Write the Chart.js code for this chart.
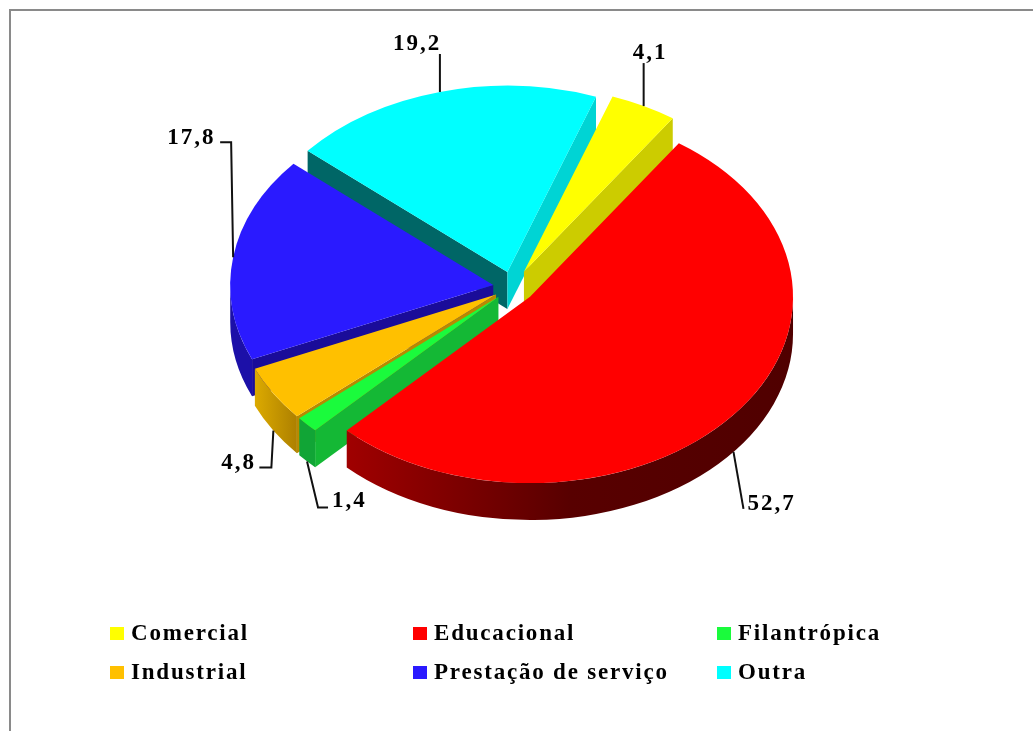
<!DOCTYPE html>
<html lang="pt">
<head>
<meta charset="utf-8">
<title>Pizza 3D</title>
<script src="https://cdn.jsdelivr.net/npm/chart.js@4"></script>
<style>
  html, body { margin: 0; padding: 0; background: #fff; overflow: hidden; }
  #wrap { position: relative; width: 1033px; height: 731px; }
  #pieCanvas { position: absolute; left: 0; top: 0; }
  #frame { position: absolute; left: 9px; top: 9px; right: -5px; bottom: -5px;
           border-left: 2px solid #8a8a8a; border-top: 2px solid #8a8a8a; }
  .item { position: absolute; height: 26px; line-height: 26px; white-space: nowrap;
          font: bold 23px "Liberation Serif", serif; letter-spacing: 1.8px; color: #000; }
  .item i { position: absolute; left: 0; top: 7px; width: 14px; height: 13px; }
  .item span { position: absolute; left: 21px; top: 0; }
</style>
</head>
<body>
<div id="wrap">
  <div id="frame"></div>
  <canvas id="pieCanvas" width="1033" height="731"></canvas>
</div>
<script>
const categories = ["Comercial", "Educacional", "Filantrópica", "Industrial", "Prestação de serviço", "Outra"];
const values = [4.1, 52.7, 1.4, 4.8, 17.8, 19.2];
const valueLabels = ["4,1", "52,7", "1,4", "4,8", "17,8", "19,2"];

const colors = ["#ffff00", "#ff0000", "#1afb3c", "#ffc000", "#2a1aff", "#00ffff"];
const startWall = ["#cccc00", "#800000", "#14b835", "#b88a00", "#1a0c99", "#006666"];
const endWall = ["#cccc00", "#800000", "#14b835", "#b88a00", "#1a0c99", "#00d4d4"];
const outerWall = [
  ["#cccc00", "#cccc00"],
  ["#a00000", "#580000", "#500000"],
  ["#11a536", "#11a536"],
  ["#dcaa00", "#ad8000"],
  ["#1c10a8", "#1c10a8"],
  ["#006666", "#006666"]
];
const explode = [24, 22, 20, 20, 20, 22];

const tilt = 0.708;
const depth = 37;

// leader line steps from the rim point, then where the text sits from the line end
const leaders = [
  { path: [[0, -43]], text: [-11, -4] },
  { path: [[10, 57]], text: [4, 1] },
  { path: [[11, 46], [21, 46]], text: [4, 0] },
  { path: [[-2, 37], [-14, 37]], text: [-38, 1] },
  { path: [[-2, -115], [-13, -115]], text: [-53, 2] },
  { path: [[0, -38]], text: [-47, -4] }
];

// three columns, two rows
const legendCols = [110, 413, 717];
const legendRows = [620, 659];

const wrap = document.getElementById("wrap");
categories.forEach((name, i) => {
  const item = document.createElement("div");
  item.className = "item";
  item.style.left = legendCols[i % 3] + "px";
  item.style.top = legendRows[Math.floor(i / 3)] + "px";
  const box = document.createElement("i");
  box.style.background = colors[i];
  const txt = document.createElement("span");
  txt.textContent = name;
  item.appendChild(box);
  item.appendChild(txt);
  wrap.appendChild(item);
});

function sliceGeometry(arc, i) {
  const mid = (arc.startAngle + arc.endAngle) / 2;
  return {
    x: arc.x + explode[i] * Math.cos(mid),
    y: arc.y + explode[i] * Math.sin(mid) * tilt,
    rx: arc.outerRadius,
    ry: arc.outerRadius * tilt,
    mid: mid
  };
}

function drawEdge(ctx, g, angle, color) {
  const px = g.x + g.rx * Math.cos(angle);
  const py = g.y + g.ry * Math.sin(angle);
  ctx.beginPath();
  ctx.moveTo(g.x, g.y);
  ctx.lineTo(px, py);
  ctx.lineTo(px, py + depth);
  ctx.lineTo(g.x, g.y + depth);
  ctx.closePath();
  ctx.fillStyle = color;
  ctx.fill();
}

function drawRim(ctx, g, from, to, stops) {
  // only the front half of the rim can be seen
  const a0 = Math.max(from, 0);
  const a1 = Math.min(to, Math.PI);
  if (a1 <= a0) return;
  const x0 = g.x + g.rx * Math.cos(a0);
  const x1 = g.x + g.rx * Math.cos(a1);
  const grad = ctx.createLinearGradient(x1, 0, x0, 0);
  stops.forEach((c, n) => grad.addColorStop(n / (stops.length - 1), c));
  ctx.beginPath();
  ctx.ellipse(g.x, g.y, g.rx, g.ry, 0, a0, a1);
  ctx.ellipse(g.x, g.y + depth, g.rx, g.ry, 0, a1, a0, true);
  ctx.closePath();
  ctx.fillStyle = grad;
  ctx.fill();
}

function normAngle(a) {
  const t = Math.PI * 2;
  return ((a % t) + t) % t;
}

const pie3d = {
  id: "pie3d",
  beforeDatasetDraw(chart, args) {
    const ctx = chart.ctx;
    const arcs = args.meta.data;
    // back slices first so the front ones cover them
    const order = [5, 0, 4, 3, 2, 1];
    ctx.save();
    order.forEach(i => {
      const arc = arcs[i];
      const g = sliceGeometry(arc, i);
      const start = arc.startAngle;
      const end = arc.endAngle;
      // an edge shows when its face turns down towards the viewer
      if (Math.sin(start - Math.PI / 2) > 0) drawEdge(ctx, g, start, startWall[i]);
      if (Math.sin(end + Math.PI / 2) > 0) drawEdge(ctx, g, end, endWall[i]);
      const from = normAngle(start);
      const span = end - start;
      drawRim(ctx, g, from, from + span, outerWall[i]);
      if (from + span > Math.PI * 2) drawRim(ctx, g, from - Math.PI * 2, from + span - Math.PI * 2, outerWall[i]);
    });
    arcs.forEach((arc, i) => {
      const mid = (arc.startAngle + arc.endAngle) / 2;
      ctx.save();
      ctx.translate(arc.x, arc.y);
      ctx.scale(1, tilt);
      ctx.translate(explode[i] * Math.cos(mid), explode[i] * Math.sin(mid));
      ctx.translate(-arc.x, -arc.y);
      arc.draw(ctx);
      ctx.restore();
    });
    ctx.restore();
    return false;
  },
  afterDraw(chart) {
    const ctx = chart.ctx;
    const arcs = chart.getDatasetMeta(0).data;
    ctx.save();
    ctx.strokeStyle = "#111";
    ctx.lineWidth = 2;
    ctx.fillStyle = "#000";
    ctx.font = 'bold 23px "Liberation Serif", serif';
    ctx.letterSpacing = "2px";
    ctx.textBaseline = "alphabetic";
    arcs.forEach((arc, i) => {
      const g = sliceGeometry(arc, i);
      const ax = g.x + g.rx * Math.cos(g.mid);
      let ay = g.y + g.ry * Math.sin(g.mid);
      if (Math.sin(g.mid) > 0) ay += depth;
      const lead = leaders[i];
      ctx.beginPath();
      ctx.moveTo(ax, ay);
      lead.path.forEach(p => ctx.lineTo(ax + p[0], ay + p[1]));
      ctx.stroke();
      const last = lead.path[lead.path.length - 1];
      ctx.fillText(valueLabels[i], ax + last[0] + lead.text[0], ay + last[1] + lead.text[1]);
    });
    ctx.restore();
  }
};

const canvas = document.getElementById("pieCanvas");
new Chart(canvas.getContext("2d"), {
  type: "pie",
  data: {
    labels: categories,
    datasets: [{
      data: values,
      backgroundColor: colors,
      borderWidth: 0
    }]
  },
  options: {
    responsive: false,
    animation: false,
    rotation: 19.7,
    radius: 263,
    layout: { padding: { right: 7, bottom: 157 } },
    plugins: { legend: { display: false }, tooltip: { enabled: false } }
  },
  plugins: [pie3d]
});
</script>
</body>
</html>
